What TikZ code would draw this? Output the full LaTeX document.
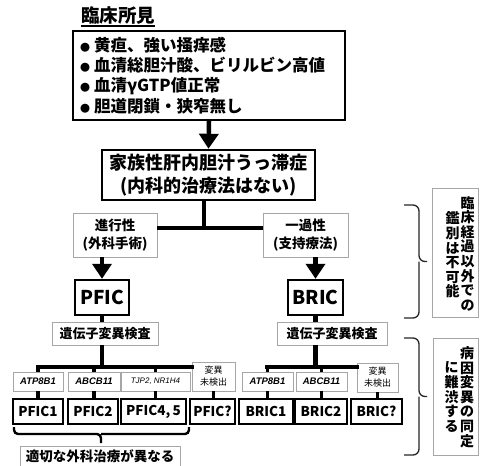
\documentclass[tikz,border=0pt]{standalone}
\usepackage{fontspec}
\setmainfont{Noto Sans CJK JP}
\newfontfamily\genefont{Liberation Sans}
\usetikzlibrary{arrows.meta}
\newcommand\mybul{{\fontsize{10}{10}\selectfont ●}\hspace{4pt}}
\tikzset{
  thickbox/.style={draw=black, line width=2.4pt, inner sep=0pt, fill=white},
  thinbox/.style={draw=gray!70, line width=0.9pt, inner sep=0pt, fill=white},
  conn/.style={line width=4.5pt, black},
  hconn/.style={line width=4.5pt, black, line cap=rect},
  arr/.style={conn, -{Triangle[width=19pt,length=15pt]}},
  tick/.style={line width=3.5pt, black},
  bracket/.style={line width=1.3pt, draw=black!85, rounded corners=6pt},
  vtext/.style={align=center, inner sep=0pt, font=\fontsize{14}{14.6}\selectfont\bfseries},
  genebox/.style={thinbox, minimum height=19pt, font=\genefont\fontsize{9.5}{10}\selectfont\bfseries\itshape},
  subbox/.style={thickbox, minimum height=25pt, font=\fontsize{13.5}{14}\selectfont\bfseries},
  nobox/.style={thinbox, minimum height=29pt, align=center, font=\fontsize{9}{12}\selectfont},
  testbox/.style={thinbox, minimum height=23pt, font=\fontsize{13}{14}\selectfont\bfseries},
}
\begin{document}
\begin{tikzpicture}[x=1pt,y=-1pt]
\fill[white] (0,0) rectangle (481,465);
\useasboundingbox (0,0) rectangle (481,465);

% title
\node[anchor=base west, inner sep=0pt, font=\fontsize{18.5}{20}\selectfont\bfseries] (title) at (81,22.5) {臨床所見};
\draw[line width=1.4pt] ([yshift=-3.5pt]title.base west) -- ([yshift=-3.5pt]title.base east);

% top box
\node[thickbox, minimum width=272pt, minimum height=89pt, align=left, text width=258pt,
      font=\fontsize{16.5}{20.3}\selectfont\bfseries] (top) at (209,75.5)
  {\mybul 黄疸、強い掻痒感\\ \mybul 血清総胆汁酸、ビリルビン高値\\ \mybul 血清γGTP値正常\\ \mybul 胆道閉鎖・狭窄無し};

% family box
\node[thickbox, minimum width=213pt, minimum height=50pt, align=center,
      font=\fontsize{18}{23}\selectfont\bfseries] (fam) at (208.5,175)
  {家族性肝内胆汁うっ滞症\\(内科的治療法はない)};
\draw[arr] (top.south) -- (fam.north);

% progressive / transient
\node[thinbox, minimum width=84pt, minimum height=44pt, align=center,
      font=\fontsize{13.5}{18}\selectfont\bfseries] (prog) at (115,235) {進行性\\(外科手術)};
\node[thinbox, minimum width=85pt, minimum height=44pt, align=center,
      font=\fontsize{13.5}{18}\selectfont\bfseries] (trans) at (305.5,235) {一過性\\(支持療法)};
\coordinate (j1) at (204,228);
\draw[conn] (fam.south -| j1) -- (j1);
\draw[conn] (prog.east |- j1) -- (trans.west |- j1);

% PFIC / BRIC
\node[thickbox, minimum width=54pt, minimum height=35pt, font=\fontsize{19}{19}\selectfont\bfseries] (pfic) at (102,297.5) {PFIC};
\node[thickbox, minimum width=55pt, minimum height=35pt, font=\fontsize{19}{19}\selectfont\bfseries] (bric) at (315.5,297.5) {BRIC};
\draw[arr] (pfic |- prog.south) -- (pfic.north);
\draw[arr] (bric |- trans.south) -- (bric.north);

% gene tests
\node[testbox, minimum width=106pt] (lgt) at (105,333.5) {遺伝子変異検査};
\node[testbox, minimum width=110pt] (rgt) at (332,333.5) {遺伝子変異検査};
\draw[conn] (pfic.south) -- (pfic |- lgt.north);
\draw[conn] (bric.south) -- (bric |- rgt.north);

% left gene boxes
\node[genebox, minimum width=50pt] (g1) at (38,381.5) {ATP8B1};
\node[genebox, minimum width=52pt] (g2) at (94,381.5) {ABCB11};
\node[genebox, minimum width=69pt, font=\genefont\fontsize{8}{9}\selectfont\itshape] (g3) at (155.5,381.5) {TJP2, NR1H4};
\node[nobox, minimum width=43pt] (g4) at (213.5,376.5) {変異\\未検出};
\node[subbox, minimum width=50pt] (p1) at (38,411.5) {PFIC1};
\node[subbox, minimum width=50pt] (p2) at (93,411.5) {PFIC2};
\node[subbox, minimum width=65pt] (p3) at (153.5,411.5) {PFIC4,\,5};
\node[subbox, minimum width=45pt] (p4) at (212.5,411.5) {PFIC?};

\coordinate (j2) at (102,367);
\draw[conn] (pfic |- lgt.south) -- (j2);
\draw[hconn] (g1.north |- j2) -- (g4.west |- j2);
\foreach \g in {g1,g2,g3} \draw[tick] (\g.north |- j2) -- (\g.north);
\foreach \g/\p in {g1/p1,g2/p2,g3/p3,g4/p4} \draw[tick] (\g.south) -- (\g.south |- \p.north);

% right gene boxes
\node[genebox, minimum width=51pt] (h1) at (267.5,381.5) {ATP8B1};
\node[genebox, minimum width=51pt] (h2) at (321.5,381.5) {ABCB11};
\node[nobox, minimum width=41pt] (h3) at (377.5,377.5) {変異\\未検出};
\node[subbox, minimum width=54pt] (b1) at (266,411.5) {BRIC1};
\node[subbox, minimum width=52pt] (b2) at (321,411.5) {BRIC2};
\node[subbox, minimum width=51pt] (b3) at (376.5,411.5) {BRIC?};

\coordinate (j3) at (315.5,367);
\draw[conn] (bric |- rgt.south) -- (j3);
\draw[hconn] (h1.north |- j3) -- (h3.west |- j3);
\foreach \g in {h1,h2} \draw[tick] (\g.north |- j3) -- (\g.north);
\foreach \g/\p in {h1/b1,h2/b2,h3/b3} \draw[tick] (\g.south) -- (\g.south |- \p.north);

% bottom brace and note
\draw[line width=2.4pt, rounded corners=4pt] (14,427) |- (101,434) -- (101,443) (101,434) -| (189,427);
\node[thinbox, minimum width=160pt, minimum height=20pt, font=\fontsize{13.5}{14}\selectfont\bfseries] (surg) at (100,456) {適切な外科治療が異なる};

% right braces and notes
\draw[bracket] (404,205) -| (419,261.5) -- (427,261.5) (419,261.5) |- (404,318);
\node[thinbox, minimum width=46pt, minimum height=129pt] (note1) at (455,252.5) {};
\node[vtext] (n1a) at (467.5,253.5) {臨\\床\\経\\過\\以\\外\\で\\の};
\node[vtext] (n1b) at (452.5,255) {鑑\\別\\は\\不\\可\\能};

\draw[bracket] (404,338) -| (419,396.5) -- (427,396.5) (419,396.5) |- (404,455);
\node[thinbox, minimum width=45pt, minimum height=117pt] (note2) at (455.5,396.5) {};
\node[vtext] (n2a) at (467,397) {病\\因\\変\\異\\の\\同\\定};
\node[vtext] (n2b) at (451.5,397) {に\\難\\渋\\す\\る};
\end{tikzpicture}
\end{document}
